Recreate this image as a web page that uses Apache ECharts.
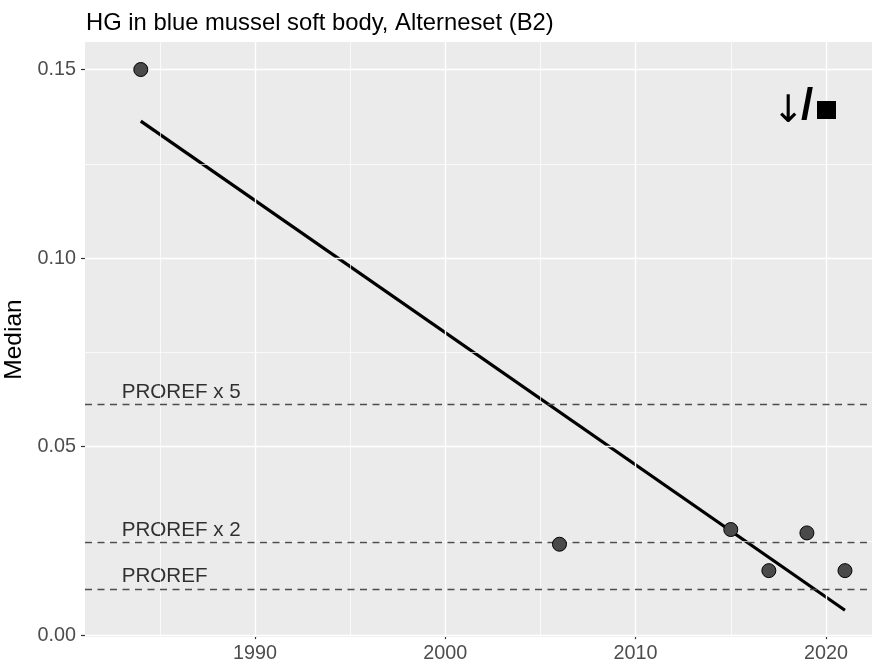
<!DOCTYPE html>
<html>
<head>
<meta charset="utf-8">
<script src="https://cdn.jsdelivr.net/npm/echarts@6/dist/echarts.min.js"></script>
<style>
html,body{margin:0;padding:0;background:#fff;}
#chart{width:872px;height:665px;}
</style>
</head>
<body>
<div id="chart"></div>
<script>
// ---- data ----
const years = [1984, 2006, 2015, 2017, 2019, 2021];
const medians = [0.150, 0.0241, 0.0280, 0.0171, 0.0271, 0.0171];
const trendYears = [1984, 2021];
const trendValues = [0.1363, 0.0066];
const refNames = ['PROREF', 'PROREF x 2', 'PROREF x 5'];
const refValues = [0.0122, 0.0245, 0.0612];
const refLabelYear = 1983;
const xTicks = [1990, 2000, 2010, 2020];
const xMinor = [1985, 1995, 2005, 2015];
const yTicks = [0, 0.05, 0.10, 0.15];
const yMinor = [0.025, 0.075, 0.125];
const titleText = 'HG in blue mussel soft body, Alterneset (B2)';
const yName = 'Median';

const FONT = 'Liberation Sans, Arial, sans-serif';
const chart = echarts.init(document.getElementById('chart'), null, {renderer: 'canvas'});

const gridLines = [];
xMinor.forEach(v => gridLines.push({xAxis: v, lineStyle: {width: 0.7}}));
yMinor.forEach(v => gridLines.push({yAxis: v, lineStyle: {width: 0.7}}));
xTicks.forEach(v => gridLines.push({xAxis: v, lineStyle: {width: 1.4}}));
yTicks.forEach(v => gridLines.push({yAxis: v, lineStyle: {width: 1.4}}));

const option = {
  animation: false,
  backgroundColor: '#ffffff',
  title: {
    text: titleText,
    left: 81, top: 6,
    textStyle: {fontFamily: FONT, fontSize: 23.8, fontWeight: 'normal', color: '#000'}
  },
  grid: {
    left: 85, right: 0, top: 42, bottom: 28,
    show: true, backgroundColor: '#ebebeb', borderWidth: 0,
    containLabel: false, outerBoundsMode: 'none'
  },
  xAxis: {
    type: 'value', min: 1981.07, max: 2022.42,
    splitLine: {show: false},
    axisLine: {show: false},
    axisTick: {show: true, customValues: xTicks, length: 4, lineStyle: {color: '#333', width: 1.2}},
    axisLabel: {customValues: xTicks, margin: 7, color: '#4d4d4d', fontSize: 19.8, fontFamily: FONT,
      formatter: v => String(Math.round(v))}
  },
  yAxis: {
    type: 'value', min: -0.0005, max: 0.1573,
    name: yName, nameLocation: 'middle', nameRotate: 90, nameGap: 52,
    nameTextStyle: {fontFamily: FONT, fontSize: 24.5, color: '#000'},
    splitLine: {show: false},
    axisLine: {show: false},
    axisTick: {show: true, customValues: yTicks, length: 4, lineStyle: {color: '#333', width: 1.2}},
    axisLabel: {customValues: yTicks, margin: 9, color: '#4d4d4d', fontSize: 19.8, fontFamily: FONT,
      formatter: v => v.toFixed(2)}
  },
  series: [
    {
      type: 'line', data: [], z: 1, silent: true,
      markLine: {
        silent: true, symbol: 'none', animation: false, precision: 6,
        label: {show: false},
        lineStyle: {color: '#ffffff', type: 'solid'},
        data: gridLines
      }
    },
    {
      type: 'line', data: [], z: 2, silent: true,
      markLine: {
        silent: true, symbol: 'none', animation: false, precision: 6,
        label: {show: false},
        lineStyle: {color: '#4d4d4d', type: [7, 5.5], width: 1.4},
        data: refValues.map(v => ({yAxis: v}))
      }
    },
    {
      type: 'scatter', z: 3, silent: true, symbolSize: 0,
      data: refValues.map((v, i) => ({value: [refLabelYear, v], name: refNames[i]})),
      label: {
        show: true, position: [0, 0], align: 'left', verticalAlign: 'bottom', offset: [0, -2],
        formatter: p => p.name, fontFamily: FONT, fontSize: 20.6, color: '#000'
      }
    },
    {
      type: 'line', z: 4, silent: true, symbol: 'none',
      data: trendYears.map((y, i) => [y, trendValues[i]]),
      lineStyle: {color: '#000', width: 3.2}
    },
    {
      type: 'scatter', z: 5, silent: true, symbolSize: 14,
      data: years.map((y, i) => [y, medians[i]]),
      itemStyle: {color: '#4a4a4a', borderColor: '#000', borderWidth: 1, opacity: 1}
    }
  ],
  graphic: [
    {type: 'text', z: 10,
      style: {x: 788.5, y: 112, text: '↓', font: '38px DejaVu Sans', fill: '#000', textAlign: 'center', textVerticalAlign: 'middle'}},
    {type: 'text', z: 10,
      style: {x: 807, y: 107, text: '/', font: 'bold 44px Liberation Sans', fill: '#000', textAlign: 'center', textVerticalAlign: 'middle'}},
    {type: 'rect', z: 10, shape: {x: 817, y: 101, width: 19, height: 18}, style: {fill: '#000'}}
  ]
};
chart.setOption(option);
</script>
</body>
</html>
